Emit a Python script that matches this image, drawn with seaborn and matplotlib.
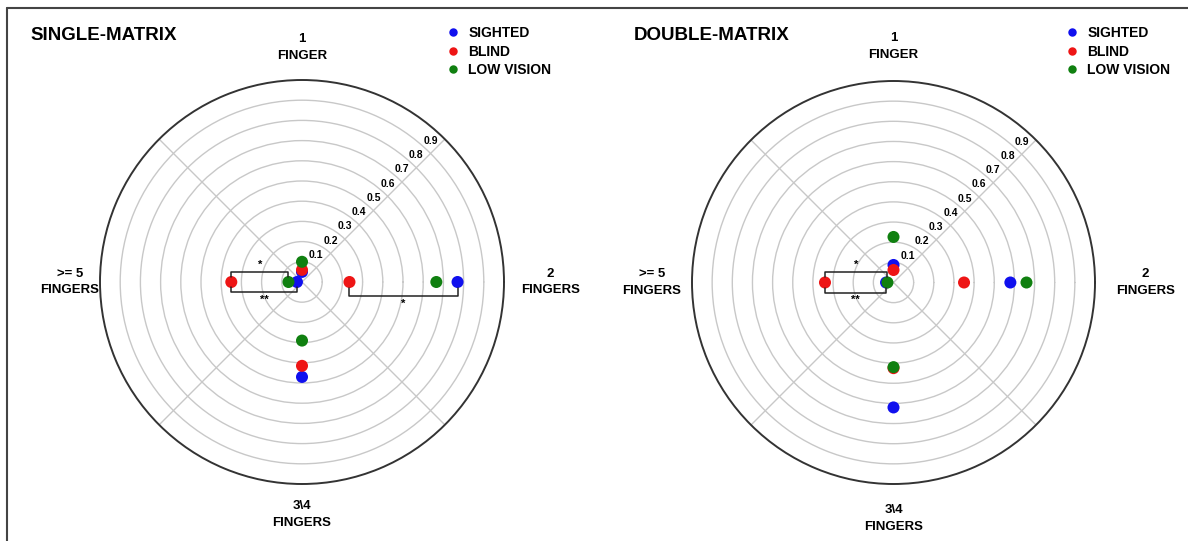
import numpy as np
import pandas as pd
import matplotlib
matplotlib.use("Agg")
import matplotlib.pyplot as plt
from matplotlib.lines import Line2D
import seaborn as sns

# data
categories = ["1\nFINGER", "2\nFINGERS", "3\\4\nFINGERS", ">= 5\nFINGERS"]
cat_angles = [90, 0, 270, 180]
groups = ["SIGHTED", "BLIND", "LOW VISION"]
group_colors = ["#1010ee", "#ee1515", "#108010"]

single_sighted = [0.05, 0.77, 0.47, 0.025]
single_blind = [0.06, 0.235, 0.415, 0.35]
single_low = [0.10, 0.665, 0.29, 0.067]

double_sighted = [0.087, 0.58, 0.62, 0.037]
double_blind = [0.062, 0.35, 0.425, 0.34]
double_low = [0.226, 0.66, 0.42, 0.03]

ring_values = [0.1, 0.2, 0.3, 0.4, 0.5, 0.6, 0.7, 0.8, 0.9]

# significance brackets: (category, group a, group b, level, stars)
single_brackets = [(">= 5\nFINGERS", "BLIND", "LOW VISION", 0.05, "*"),
                   (">= 5\nFINGERS", "BLIND", "SIGHTED", -0.05, "**"),
                   ("2\nFINGERS", "BLIND", "SIGHTED", -0.07, "*")]
double_brackets = [(">= 5\nFINGERS", "BLIND", "LOW VISION", 0.05, "*"),
                   (">= 5\nFINGERS", "BLIND", "SIGHTED", -0.05, "**")]

sns.set_style("white")
plt.rcParams['font.family'] = ['Liberation Sans', 'DejaVu Sans']
plt.rcParams['font.weight'] = 'bold'
plt.rcParams['text.color'] = 'black'

W, H = 1188, 541
fig = plt.figure(figsize=(W / 100, H / 100), dpi=100)

# frame around the figure (only left and top visible in reference)
fig.add_artist(Line2D([7 / W, 7 / W], [0, 1 - 8 / H], transform=fig.transFigure, color="#444444", lw=1.5))
fig.add_artist(Line2D([7 / W, 1], [1 - 8 / H, 1 - 8 / H], transform=fig.transFigure, color="#444444", lw=1.5))


def make_frame(sighted, blind, low):
    rows = []
    for g, vals in zip(groups, [sighted, blind, low]):
        for c, a, v in zip(categories, cat_angles, vals):
            rows.append({"category": c, "theta": np.deg2rad(a), "value": v, "group": g})
    return pd.DataFrame(rows)


def draw_panel(cx, cy, rad, df, title, brackets, title_x, legend_x, lab_off):
    rect = [(cx - rad) / W, (H - cy - rad) / H, 2 * rad / W, 2 * rad / H]
    ax = fig.add_axes(rect, projection="polar")
    ax.set_ylim(0, 1)
    ax.set_rgrids(ring_values, labels=[""] * len(ring_values))
    ax.set_thetagrids([45, 135, 225, 315], labels=[""] * 4)
    ax.grid(True, color="#c8c8c8", lw=1.0)
    ax.spines["polar"].set_color("#333333")
    ax.spines["polar"].set_linewidth(1.4)

    sns.scatterplot(data=df, x="theta", y="value", hue="group", hue_order=groups,
                    palette=group_colors, s=75, edgecolor="none", ax=ax, zorder=5,
                    clip_on=False)
    ax.set_xlabel("")
    ax.set_ylabel("")
    handles, labels = ax.get_legend_handles_labels()
    ax.get_legend().remove()
    fig.legend(handles, labels, loc="upper left", bbox_to_anchor=(legend_x / W, 1 - 19 / H),
               bbox_transform=fig.transFigure, frameon=False, fontsize=10,
               handlelength=1.0, handletextpad=0.6, labelspacing=0.33,
               markerscale=0.7, borderpad=0)

    # cartesian overlay for labels and brackets
    ov = fig.add_axes(rect)
    ov.set_xlim(-1, 1)
    ov.set_ylim(-1, 1)
    ov.axis("off")
    ov.patch.set_alpha(0)

    d45 = np.cos(np.deg2rad(45))
    for r in ring_values:
        ov.text(r * d45, r * d45 + 0.063, f"{r:.1f}", ha="center", va="center", fontsize=7.5, fontweight="bold")

    for c, a, off in zip(categories, cat_angles, lab_off):
        ov.text(off * np.cos(np.deg2rad(a)), off * np.sin(np.deg2rad(a)), c,
                ha="center", va="center", fontsize=9.5, fontweight="bold", linespacing=1.5)

    for cat, ga, gb, lev, stars in brackets:
        sub = df[df["category"] == cat].set_index("group")
        a = np.deg2rad(cat_angles[categories.index(cat)])
        xa = sub.loc[ga, "value"] * np.cos(a)
        xb = sub.loc[gb, "value"] * np.cos(a)
        tick = lev * 0.5 if abs(lev) < 0.06 else lev * 0.43
        ov.plot([xa, xa, xb, xb], [tick, lev, lev, tick], color="#222222", lw=1.1)
        ov.text((xa + xb) / 2, lev + (0.012 if lev > 0 else -0.012), stars,
                ha="center", va="bottom" if lev > 0 else "top", fontsize=8, fontweight="bold")

    fig.text(title_x / W, 1 - 36 / H, title, ha="left", va="center", fontsize=13.5, fontweight="bold")


draw_panel(302, 282, 202, make_frame(single_sighted, single_blind, single_low),
           "SINGLE-MATRIX", single_brackets, 30, 439, [1.16, 1.23, 1.15, 1.15])
draw_panel(893.5, 282.5, 201.5, make_frame(double_sighted, double_blind, double_low),
           "DOUBLE-MATRIX", double_brackets, 634, 1058, [1.17, 1.25, 1.17, 1.20])

fig.savefig("out.png", dpi=100)
